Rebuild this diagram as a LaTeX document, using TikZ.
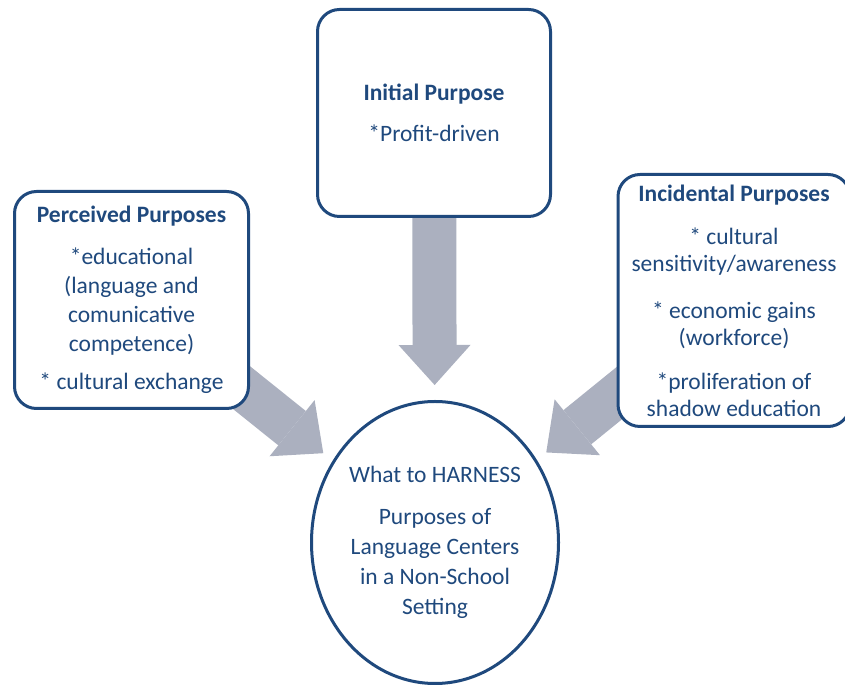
\documentclass[tikz,border=0pt]{standalone}
\usepackage{fontspec}
\setmainfont{Carlito}
\usetikzlibrary{shapes, arrows.meta, positioning, backgrounds}

\definecolor{boxblue}{HTML}{1F497D}
\definecolor{arrowgray}{HTML}{ABB0BF}

\tikzset{
    purposebox/.style={draw=boxblue, line width=3pt, rounded corners=22pt, fill=white,
        text=boxblue, align=center, inner sep=0pt},
    blockarrow/.style={draw=arrowgray, line width=44pt,
        -{Triangle[width=72pt, length=40pt, line width=0pt]}},
}

\begin{document}
\begin{tikzpicture}[x=1pt, y=1pt, font=\fontsize{23.5}{29}\selectfont]
    \useasboundingbox (0,0) rectangle (845,687);

    \node[purposebox, minimum width=233pt, minimum height=207pt] at (434, 574) (initial)
        {\textbf{Initial Purpose}\\[12pt] *Profit-driven};

    \node[purposebox, minimum width=234pt, minimum height=217pt] at (131.5, 387) (perceived)
        {\textbf{Perceived Purposes}\\[13pt] *educational\\ (language and\\ comunicative\\ competence)\\[9pt] * cultural exchange};

    \node[purposebox, minimum width=232pt, minimum height=252pt, font=\fontsize{23.5}{26.5}\selectfont]
        at (734, 386.5) (incidental)
        {\textbf{Incidental Purposes}\\[17pt] * cultural\\ sensitivity/awareness\\[21pt] * economic gains\\ (workforce)\\[18pt] *proliferation of\\ shadow education};

    \node[draw=boxblue, line width=3pt, ellipse, fill=white, text=boxblue, align=center,
        inner sep=0pt, minimum width=247pt, minimum height=282pt,
        font=\fontsize{23.5}{30}\selectfont] at (435, 144.5) (harness)
        {What to HARNESS\\[12pt] Purposes of\\ Language Centers\\ in a Non-School\\ Setting};

    % the three big arrows sit behind the boxes
    \begin{pgfonlayer}{background}
        \draw[blockarrow, shorten <=-30pt, shorten >=15pt] (initial) -- (harness);
        \draw[blockarrow, shorten <=-40pt, shorten >=12pt] (perceived) -- (harness);
        \draw[blockarrow, shorten <=-40pt, shorten >=12pt] (incidental) -- (harness);
    \end{pgfonlayer}
\end{tikzpicture}
\end{document}
